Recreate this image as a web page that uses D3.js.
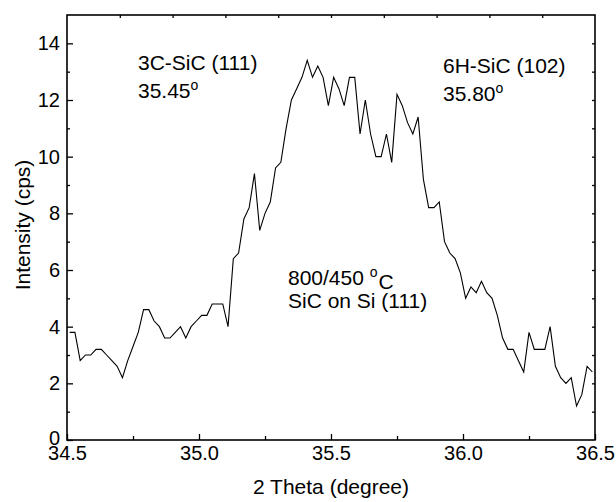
<!DOCTYPE html>
<html lang="en">
	<head>
		<meta charset="utf-8">
		<title>XRD SiC on Si (111)</title>
        <script type="text/javascript" src="https://d3js.org/d3.v7.min.js"></script>
    </head>
    <style>
        body { margin: 0; background: #fff; }
        text { font-family: "Liberation Sans", Arial, sans-serif; fill: #000; }
        .tick text { font-size: 20px; }
        .domain { display: none; }
    </style>
	<body>
		<script type="text/javascript">
            "use strict";

            // 2 theta positions of the scan (degree)
            let theta = [
                34.51, 34.53, 34.55, 34.57, 34.59, 34.61, 34.63, 34.65, 34.67, 34.69,
                34.71, 34.73, 34.75, 34.77, 34.79, 34.81, 34.83, 34.85, 34.87, 34.89,
                34.91, 34.93, 34.95, 34.97, 34.99, 35.01, 35.03, 35.05, 35.07, 35.09,
                35.11, 35.13, 35.15, 35.17, 35.19, 35.21, 35.23, 35.25, 35.27, 35.29,
                35.31, 35.33, 35.35, 35.37, 35.39, 35.41, 35.43, 35.45, 35.47, 35.49,
                35.51, 35.53, 35.55, 35.57, 35.59, 35.61, 35.63, 35.65, 35.67, 35.69,
                35.71, 35.73, 35.75, 35.77, 35.79, 35.81, 35.83, 35.85, 35.87, 35.89,
                35.91, 35.93, 35.95, 35.97, 35.99, 36.01, 36.03, 36.05, 36.07, 36.09,
                36.11, 36.13, 36.15, 36.17, 36.19, 36.21, 36.23, 36.25, 36.27, 36.29,
                36.31, 36.33, 36.35, 36.37, 36.39, 36.41, 36.43, 36.45, 36.47, 36.49
            ];

            // intensity (cps)
            let intensity = [
                3.8, 3.8, 2.8, 3.0, 3.0, 3.2, 3.2, 3.0, 2.8, 2.6,
                2.2, 2.8, 3.3, 3.8, 4.6, 4.6, 4.2, 4.0, 3.6, 3.6,
                3.8, 4.0, 3.6, 4.0, 4.2, 4.4, 4.4, 4.8, 4.8, 4.8,
                4.0, 6.4, 6.6, 7.8, 8.2, 9.4, 7.4, 8.0, 8.4, 9.6,
                9.8, 11.0, 12.0, 12.4, 12.8, 13.4, 12.8, 13.2, 12.8, 11.8,
                12.8, 12.4, 11.8, 12.8, 12.8, 10.8, 12.0, 10.8, 10.0, 10.0,
                10.8, 9.8, 12.2, 11.8, 11.2, 10.8, 11.4, 9.2, 8.2, 8.2,
                8.4, 7.0, 6.6, 6.4, 5.9, 5.0, 5.4, 5.2, 5.6, 5.2,
                5.0, 4.4, 3.6, 3.2, 3.2, 2.8, 2.4, 3.8, 3.2, 3.2,
                3.2, 4.0, 2.6, 2.2, 2.0, 2.2, 1.2, 1.6, 2.6, 2.4
            ];

            let xTicks = [34.5, 35.0, 35.5, 36.0, 36.5];
            let yTicks = [0, 2, 4, 6, 8, 10, 12, 14];

            //Width and height
            let w = 616;
            let h = 502;
            let margin = {top: 15, right: 21, bottom: 62, left: 67};

            let x = d3.scaleLinear()
                .domain([34.5, 36.5])
                .range([margin.left, w - margin.right]);
            let y = d3.scaleLinear()
                .domain([0, 15])
                .range([h - margin.bottom, margin.top]);

            let svg = d3.select("body")
                .append("svg")
                .attr("width", w)
                .attr("height", h);

            //minor ticks (inside the frame)
            svg.append("g")
                .attr("transform", "translate(0," + y(0) + ")")
                .call(d3.axisBottom(x).tickValues(d3.range(34.75, 36.5, 0.5)).tickSize(-4).tickFormat(""));
            svg.append("g")
                .attr("transform", "translate(" + x(34.5) + ",0)")
                .call(d3.axisLeft(y).tickValues(d3.range(1, 15, 2)).tickSize(-3).tickFormat(""));
            svg.append("g")
                .attr("transform", "translate(0," + y(15) + ")")
                .call(d3.axisTop(x).tickValues(d3.range(34.7, 36.4, 0.2)).tickSize(-3).tickFormat(""));
            svg.append("g")
                .attr("transform", "translate(" + x(36.5) + ",0)")
                .call(d3.axisRight(y).tickValues(d3.range(1, 15, 1)).tickSize(-3).tickFormat(""));

            //major ticks with labels
            svg.append("g")
                .attr("transform", "translate(0," + y(0) + ")")
                .call(d3.axisBottom(x).tickValues(xTicks).tickSize(-6).tickPadding(6)
                    .tickFormat(d3.format(".1f")))
                .selectAll("text").attr("dy", "0.71em");
            svg.append("g")
                .attr("transform", "translate(" + x(34.5) + ",0)")
                .call(d3.axisLeft(y).tickValues(yTicks).tickSize(-6).tickPadding(7)
                    .tickFormat(d3.format("d")))
                .selectAll("text").attr("dy", function(d) { return d === 0 ? "0.2em" : "0.32em"; });

            svg.selectAll(".tick line").attr("stroke", "#000").attr("stroke-width", 1.3);

            //frame
            svg.append("rect")
                .attr("x", x(34.5))
                .attr("y", y(15))
                .attr("width", x(36.5) - x(34.5))
                .attr("height", y(0) - y(15))
                .attr("fill", "none")
                .attr("stroke", "#000")
                .attr("stroke-width", 1.6);

            //the scan
            let line = d3.line()
                .x(function(d, i) { return x(theta[i]); })
                .y(function(d) { return y(d); });

            svg.append("path")
                .datum(intensity)
                .attr("d", line)
                .attr("fill", "none")
                .attr("stroke", "#000")
                .attr("stroke-width", 1.1)
                .attr("stroke-linejoin", "miter");

            //axis titles
            svg.append("text")
                .attr("x", (x(34.5) + x(36.5)) / 2)
                .attr("y", 494)
                .attr("text-anchor", "middle")
                .style("font-size", "21px")
                .text("2 Theta (degree)");

            svg.append("text")
                .attr("transform", "translate(30,225) rotate(-90)")
                .attr("text-anchor", "middle")
                .style("font-size", "21px")
                .text("Intensity (cps)");

            //annotations
            function label(xp, yp, main, sup, tail) {
                let t = svg.append("text")
                    .attr("x", xp)
                    .attr("y", yp)
                    .style("font-size", "21px");
                t.append("tspan").text(main);
                if (sup) {
                    t.append("tspan").attr("dy", "-0.55em").style("font-size", "14px").text(sup);
                    if (tail) t.append("tspan").attr("dy", "0.55em").attr("dx", "1").text(tail);
                }
            }

            label(138, 70, "3C-SiC (111)");
            label(138, 98, "35.45", "o");
            label(443, 73, "6H-SiC (102)");
            label(443, 101, "35.80", "o");
            label(288, 285, "800/450 ", "o", "C");
            label(288, 308, "SiC on Si (111)");
		</script>
	</body>
</html>
